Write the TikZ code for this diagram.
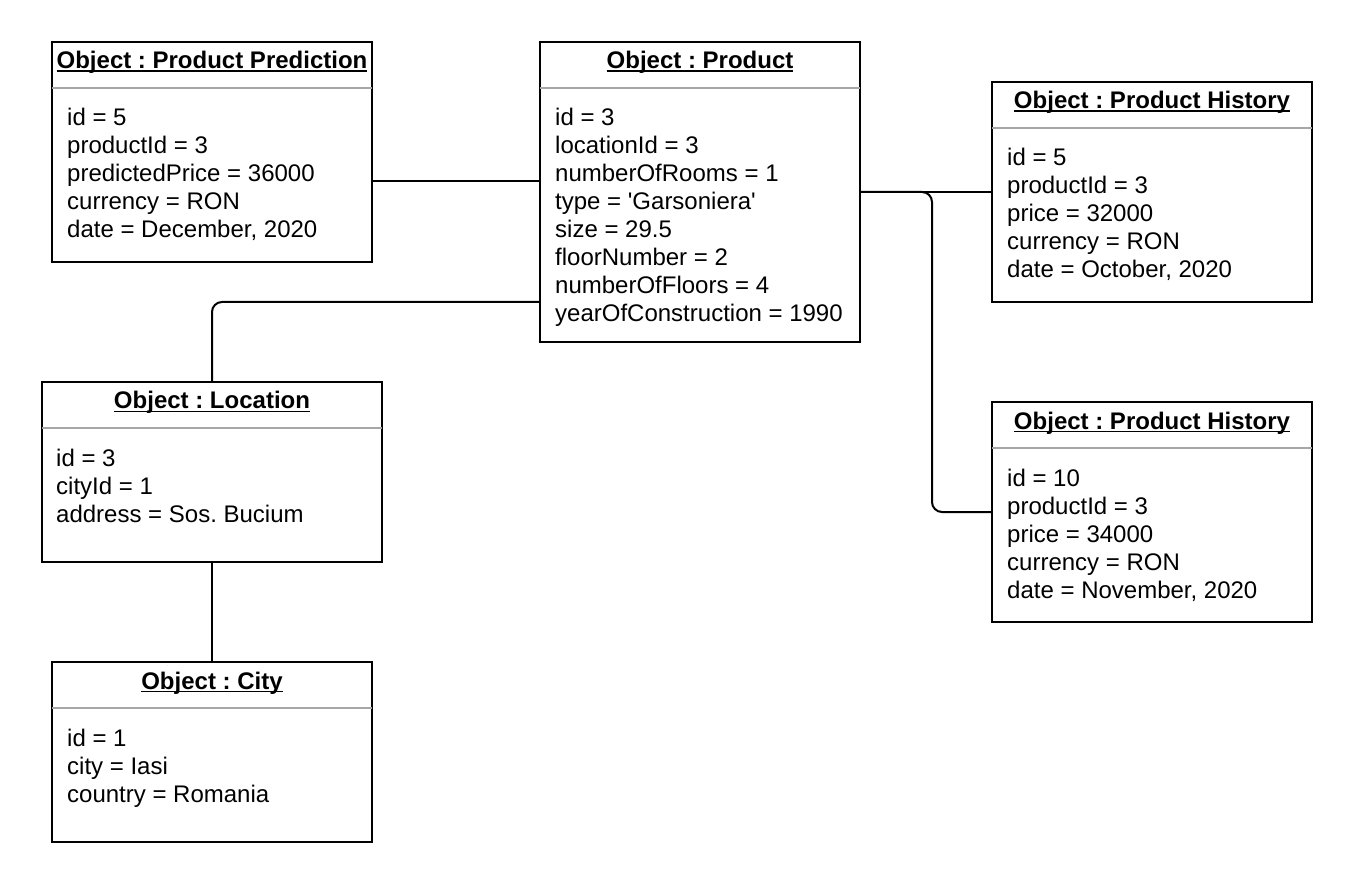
\documentclass[tikz,border=0pt]{standalone}
\usepackage{fontspec}
\setmainfont{Liberation Sans}
\frenchspacing
\newcommand{\objuline}[1]{\setbox0\hbox{#1}\rlap{\rule[-3pt]{\wd0}{1.5pt}}\box0}

\begin{document}
\begin{tikzpicture}[x=1pt, y=-1pt,
    objbox/.style={draw, line width=2pt, minimum width=320pt, minimum height=220pt, anchor=north west, inner sep=0pt},
    objtitle/.style={anchor=base, inner sep=0pt, font=\fontsize{24}{28}\selectfont\bfseries},
    objbody/.style={anchor=base west, align=left, inner sep=0pt, font=\fontsize{24}{28}\selectfont},
    sepline/.style={draw=gray!70, line width=2.5pt, shorten <=1pt, shorten >=1pt},
    link/.style={line width=2pt, rounded corners=10pt}]

    \useasboundingbox (0 , 0) rectangle (1352 , 882);

    \node [objbox] (pred) at (51 , 41) {};
    \node [objbox, minimum height=300pt] (prod) at (539 , 41) {};
    \node [objbox] (hist1) at (991 , 81) {};
    \node [objbox] (hist2) at (991 , 401) {};
    \node [objbox, minimum width=340pt, minimum height=180pt] (loc) at (41 , 381) {};
    \node [objbox, minimum height=180pt] (city) at (51 , 661) {};

    \foreach \b in {pred, prod, hist1, hist2, loc, city}
        \draw [sepline] ([yshift=-47pt]\b.north west) -- ([yshift=-47pt]\b.north east);

    \node [objtitle] (predtitle) at ([yshift=-28pt]pred.north) {\objuline{Object : Product Prediction}};
    \node [objtitle] (prodtitle) at ([yshift=-28pt]prod.north) {\objuline{Object : Product}};
    \node [objtitle] (hist1title) at ([yshift=-28pt]hist1.north) {\objuline{Object : Product History}};
    \node [objtitle] (hist2title) at ([yshift=-28pt]hist2.north) {\objuline{Object : Product History}};
    \node [objtitle] (loctitle) at ([yshift=-28pt]loc.north) {\objuline{Object : Location}};
    \node [objtitle] (citytitle) at ([yshift=-28pt]city.north) {\objuline{Object : City}};

    \node [objbody] (predbody) at ([xshift=16pt, yshift=-197pt]pred.north west)
        {id = 5\\productId = 3\\predictedPrice = 36000\\currency = RON\\date = December, 2020};
    \node [objbody] (prodbody) at ([xshift=16pt, yshift=-281pt]prod.north west)
        {id = 3\\locationId = 3\\numberOfRooms = 1\\type = \textquotesingle Garsoniera\textquotesingle\\size = 29.5\\floorNumber = 2\\numberOfFloors = 4\\yearOfConstruction = 1990};
    \node [objbody] (hist1body) at ([xshift=16pt, yshift=-197pt]hist1.north west)
        {id = 5\\productId = 3\\price = 32000\\currency = RON\\date = October, 2020};
    \node [objbody] (hist2body) at ([xshift=16pt, yshift=-197pt]hist2.north west)
        {id = 10\\productId = 3\\price = 34000\\currency = RON\\date = November, 2020};
    \node [objbody] (locbody) at ([xshift=15pt, yshift=-141pt]loc.north west)
        {id = 3\\cityId = 1\\address = Sos. Bucium};
    \node [objbody] (citybody) at ([xshift=16pt, yshift=-141pt]city.north west)
        {id = 1\\city = Iasi\\country = Romania};

    \coordinate (predlink) at ([yshift=-29pt]pred.east);
    \coordinate (prodloc) at ([yshift=-110pt]prod.west);

    \draw [link] (predlink) -- (predlink -| prod.west);
    \draw [link] (prod.east) -- (hist1.west);
    \draw [link] (prod.east) -- ([xshift=71pt]prod.east) |- (hist2.west);
    \draw [link] (prodloc) -| (loc.north);
    \draw [link] (loc.south) -- (city.north);
\end{tikzpicture}
\end{document}
